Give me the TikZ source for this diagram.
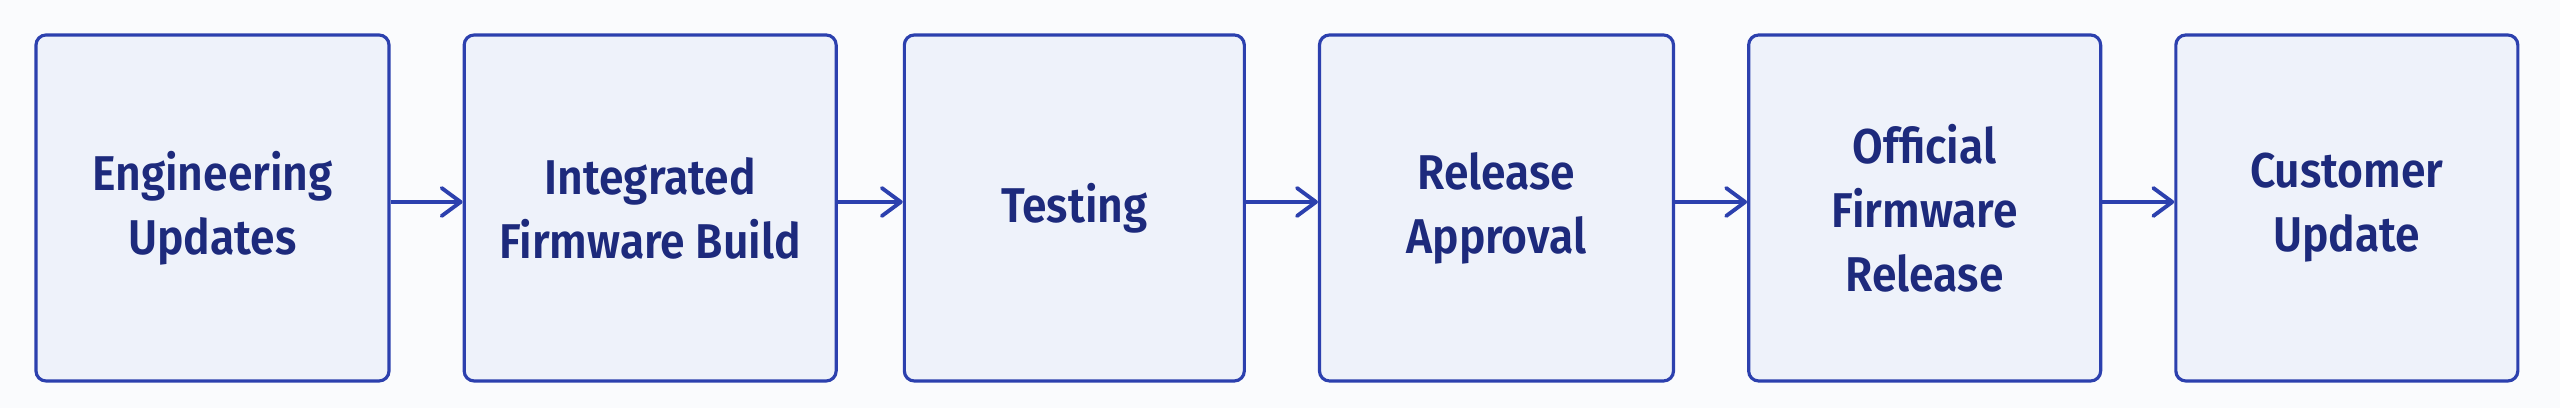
\documentclass[tikz,border=0pt]{standalone}
\usepackage{fontspec}
\setmainfont{Fira Sans}[BoldFont={Fira Sans SemiBold}, FakeStretch=0.91]
\usepackage{tikz}
\usetikzlibrary{arrows.meta, positioning}
\definecolor{edge}{HTML}{2C40AE}
\definecolor{boxfill}{HTML}{EEF2FA}
\definecolor{ink}{HTML}{1D2A7C}
\definecolor{paper}{HTML}{FAFBFD}

\begin{document}
\begin{tikzpicture}[>={Straight Barb[length=1.9mm, width=2.8mm, round]}, font=\fontsize{13.9}{18.2}\selectfont\bfseries,
  stage/.style={draw=edge, fill=boxfill, line width=0.9pt, rounded corners=1mm,
    minimum height=3.46cm, align=center, text=ink, inner sep=0pt},
  flow/.style={->, draw=edge, line width=1.1pt}]
  % Hintergrund
  \fill[paper] (0,0) rectangle (25.6,4.08);
  \useasboundingbox (0,0) rectangle (25.6,4.08);

  % Stufen
  \node[stage, minimum width=3.53cm] (eng) at (2.125,2.0) {Engineering\\Updates};
  \node[stage, minimum width=3.72cm, right=0.72cm of eng] (build) {Integrated\\Firmware Build};
  \node[stage, minimum width=3.40cm, right=0.65cm of build] (test) {Testing};
  \node[stage, minimum width=3.54cm, right=0.72cm of test] (appr) {Release\\Approval};
  \node[stage, minimum width=3.52cm, right=0.72cm of appr] (rel) {Official\\Firmware\\Release};
  \node[stage, minimum width=3.42cm, right=0.72cm of rel] (cust) {Customer\\Update};

  % Pfeile
  \foreach \a/\b in {eng/build, build/test, test/appr, appr/rel, rel/cust}
    \draw[flow] ([yshift=0.6mm]\a.east) -- ([yshift=0.6mm]\b.west);
\end{tikzpicture}
\end{document}
